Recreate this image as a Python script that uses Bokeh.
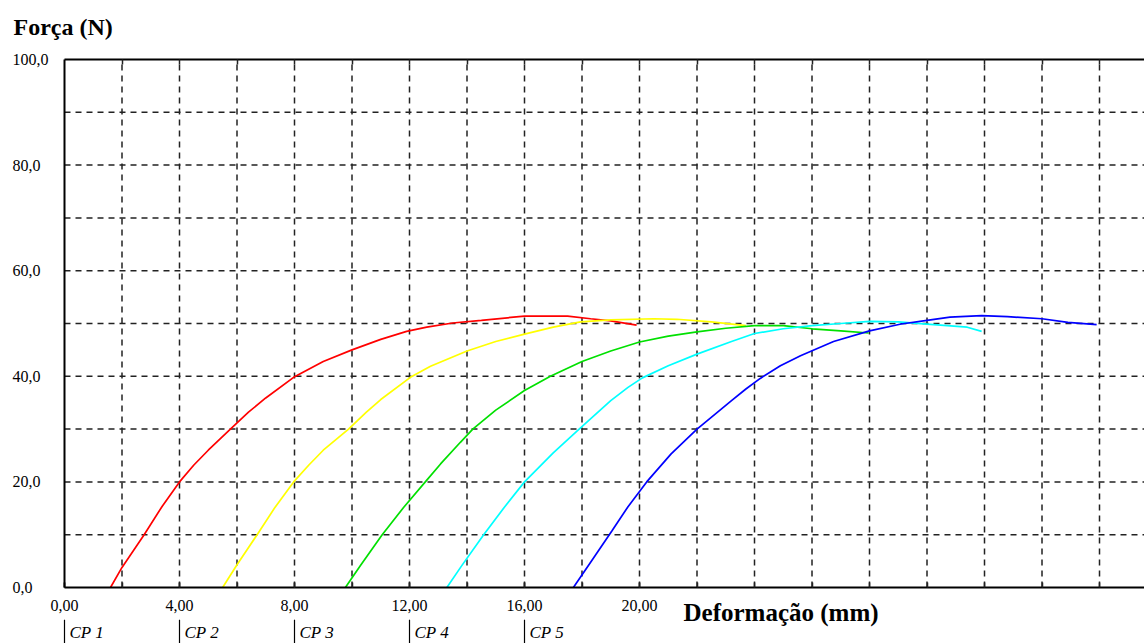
from bokeh.plotting import figure
from bokeh.models import Range1d, FixedTicker, LinearAxis, Label
from bokeh.core.properties import value
from bokeh.embed import file_html
from bokeh.resources import INLINE

# ---- data ----
cp1_x = [1.6, 2.0, 2.77, 3.4, 4.0, 4.5, 5.0, 5.77, 6.4, 7.0, 7.97, 9.0, 10.0, 11.0, 11.9, 12.6, 13.5, 14.5, 16.0, 17.5, 18.3, 19.0, 19.9]
cp1_y = [0.0, 3.8, 10.0, 15.4, 20.0, 23.2, 26.0, 30.0, 33.2, 35.9, 39.8, 42.8, 45.0, 47.0, 48.5, 49.3, 50.1, 50.6, 51.4, 51.4, 50.9, 50.5, 49.7]

cp2_x = [5.5, 6.0, 6.7, 7.3, 7.97, 8.5, 9.0, 9.88, 10.5, 11.0, 12.03, 12.73, 14.0, 15.0, 16.0, 17.0, 17.95, 19.0, 20.5, 21.3, 22.5, 23.7]
cp2_y = [0.0, 4.3, 10.0, 15.0, 20.0, 23.2, 26.0, 30.0, 33.2, 35.6, 39.8, 41.9, 44.8, 46.6, 48.0, 49.3, 50.3, 50.7, 50.9, 50.8, 50.3, 49.6]

cp3_x = [9.77, 10.3, 11.05, 11.8, 12.55, 13.08, 13.77, 14.2, 15.0, 16.0, 16.9, 18.0, 19.0, 20.0, 21.0, 22.0, 23.0, 24.0, 25.0, 26.0, 27.0, 27.97]
cp3_y = [0.0, 4.2, 10.0, 15.2, 20.0, 23.4, 27.5, 30.0, 33.6, 37.3, 40.0, 42.8, 44.8, 46.5, 47.6, 48.4, 49.1, 49.6, 49.6, 49.0, 48.6, 48.2]

cp4_x = [13.3, 13.8, 14.58, 15.3, 16.0, 17.0, 17.9, 19.0, 19.6, 20.1, 21.0, 22.0, 23.2, 24.0, 25.0, 26.0, 27.0, 28.0, 29.0, 30.0, 31.4, 31.9]
cp4_y = [0.0, 4.0, 10.0, 15.2, 20.0, 25.5, 30.0, 35.4, 37.9, 39.7, 42.0, 44.2, 46.6, 48.1, 49.0, 49.6, 50.0, 50.4, 50.3, 49.9, 49.3, 48.5]

cp5_x = [17.7, 18.3, 19.05, 19.6, 20.25, 21.1, 22.0, 23.2, 23.7, 24.2, 24.9, 25.6, 26.75, 28.0, 29.1, 30.0, 30.8, 31.9, 32.8, 34.0, 34.9, 35.9]
cp5_y = [0.0, 4.8, 10.8, 15.3, 20.0, 25.3, 30.0, 35.4, 37.6, 39.6, 42.0, 43.9, 46.6, 48.6, 49.9, 50.6, 51.2, 51.5, 51.3, 50.9, 50.2, 49.8]

series_x = [cp1_x, cp2_x, cp3_x, cp4_x, cp5_x]
series_y = [cp1_y, cp2_y, cp3_y, cp4_y, cp5_y]
series_colors = ["#ff0000", "#ffff00", "#00e000", "#00ffff", "#0000ff"]

cp_names = ["CP 1", "CP 2", "CP 3", "CP 4", "CP 5"]
cp_offsets = [0, 4, 8, 12, 16]

x_ticks = [0, 4, 8, 12, 16, 20]
x_tick_labels = ["0,00", "4,00", "8,00", "12,00", "16,00", "20,00"]
y_ticks = [0, 20, 40, 60, 80, 100]
y_tick_labels = ["0,0", "20,0", "40,0", "60,0", "80,0", "100,0"]
x_grid = list(range(2, 37, 2))
y_grid = list(range(10, 100, 10))

# data extent of the plotting box (the box runs off the right edge of the picture)
X_LO, X_HI = 0.0, 37.565
Y_LO, Y_HI = 0.0, 100.0

# whole-canvas frame so that texts around the box are drawn with the same scales
W, H = 1144, 643
BOX_LEFT, BOX_TOP, BOX_BOTTOM = 64, 59, 587
px_x = (X_HI - X_LO) / (W - BOX_LEFT)
px_y = (Y_HI - Y_LO) / (BOX_BOTTOM - BOX_TOP)
XMIN = X_LO - BOX_LEFT * px_x
YMAX = Y_HI + BOX_TOP * px_y
YMIN = Y_LO - (H - BOX_BOTTOM) * px_y

SERIF = "Liberation Serif"
INK = "#222222"

p = figure(width=W, height=H,
           x_range=Range1d(XMIN, X_HI), y_range=Range1d(YMIN, YMAX),
           output_backend="svg", toolbar_location=None,
           x_axis_location=None, y_axis_location=None,
           min_border_left=0, min_border_right=0, min_border_top=0, min_border_bottom=0)
p.outline_line_color = None
p.background_fill_color = "white"
p.border_fill_color = "white"
p.grid.visible = False

# dashed grid, confined to the plotting box
n_vx = len(x_grid)
n_hy = len(y_grid)
p.segment(x0=x_grid, y0=[Y_LO] * n_vx, x1=x_grid, y1=[Y_HI] * n_vx,
          line_color=INK, line_width=1.5, line_dash="6 5")
p.segment(x0=[X_LO] * n_hy, y0=y_grid, x1=[X_HI] * n_hy, y1=y_grid,
          line_color=INK, line_width=1.5, line_dash="6 5")

# axes drawn at the box edges
bottom = LinearAxis(fixed_location=Y_LO, bounds=(X_LO, X_HI),
                    ticker=FixedTicker(ticks=x_ticks, minor_ticks=list(range(0, 37, 2))),
                    major_label_overrides={t: s for t, s in zip(x_ticks, x_tick_labels)},
                    major_label_text_font=SERIF, major_label_text_font_size="16px",
                    major_label_text_color="black", major_label_standoff=12,
                    axis_line_color="black", axis_line_width=2,
                    major_tick_in=5, major_tick_out=0, minor_tick_in=5, minor_tick_out=0,
                    major_tick_line_color=INK, minor_tick_line_color=INK,
                    major_tick_line_width=1.5, minor_tick_line_width=1.5)
p.add_layout(bottom, "below")

top = LinearAxis(fixed_location=Y_HI, bounds=(X_LO, X_HI),
                 ticker=FixedTicker(ticks=[], minor_ticks=x_grid),
                 axis_line_color="black", axis_line_width=2,
                 minor_tick_in=5, minor_tick_out=0,
                 minor_tick_line_color=INK, minor_tick_line_width=1.5)
p.add_layout(top, "above")

left = LinearAxis(fixed_location=X_LO, bounds=(Y_LO, Y_HI),
                  ticker=FixedTicker(ticks=[]),
                  axis_line_color="black", axis_line_width=2)
p.add_layout(left, "left")

# curves
for xs, ys, c in zip(series_x, series_y, series_colors):
    p.line(xs, ys, line_color=c, line_width=1.7)

# y tick labels, left aligned as in the reference
p.text(x=[XMIN + 12 * px_x] * len(y_ticks), y=y_ticks, text=y_tick_labels,
       text_align="left", text_baseline="middle",
       text_font=value(SERIF), text_font_size="16px", text_color="black")

# axis titles
p.add_layout(Label(x=XMIN + 13 * px_x, y=106.2, text="Força (N)",
                   text_align="left", text_baseline="middle",
                   text_font=SERIF, text_font_style="bold", text_font_size="24px",
                   text_color="black"))
p.add_layout(Label(x=21.53, y=-4.7, text="Deformação (mm)",
                   text_align="left", text_baseline="middle",
                   text_font=SERIF, text_font_style="bold", text_font_size="25px",
                   text_color="black"))

# specimen markers: a bar at each specimen's origin and its name
n_cp = len(cp_offsets)
p.segment(x0=cp_offsets, y0=[-6.1] * n_cp, x1=cp_offsets, y1=[YMIN] * n_cp,
          line_color="black", line_width=1.2)
p.text(x=[o + 5 * px_x for o in cp_offsets], y=[-8.55] * n_cp, text=cp_names,
       text_align="left", text_baseline="middle",
       text_font=value(SERIF), text_font_style="italic", text_font_size="17px",
       text_color="black")

open("out.html", "w").write(file_html(p, INLINE))
